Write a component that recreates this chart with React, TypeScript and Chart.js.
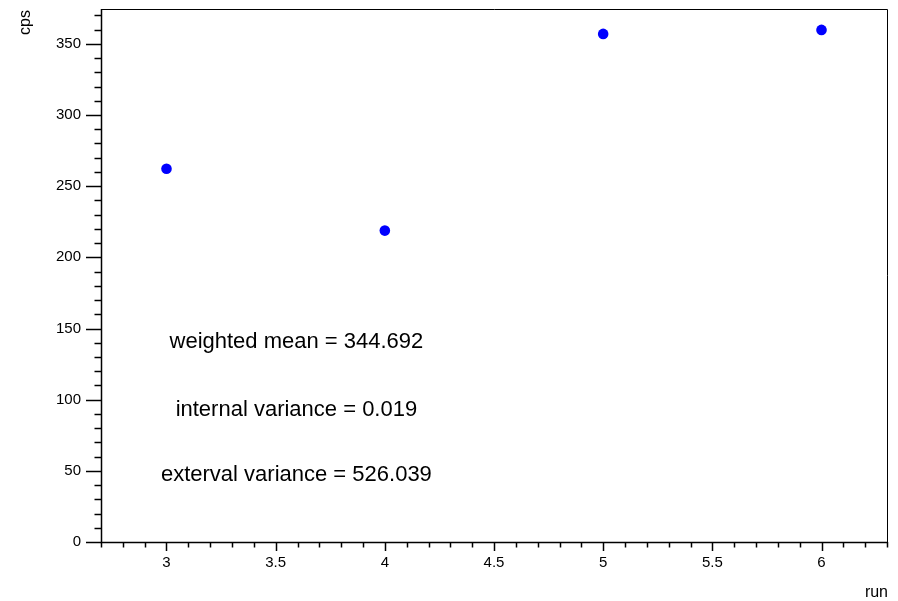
import React, { useEffect, useRef } from "react";
import { Chart, registerables } from "chart.js";

Chart.register(...registerables);

const runs = [3, 4, 5, 6];
const cps = [262.3, 218.8, 357.0, 359.8];

const annotationLabels = [
  "weighted mean = 344.692",
  "internal variance = 0.019",
  "exterval variance = 526.039",
];
const annotationX = [3.595, 3.595, 3.595];
const annotationY = [140.5, 92.8, 47.0];

const xTitle = "run";
const yTitle = "cps";

const FONT = "'Liberation Sans', Arial, Helvetica, sans-serif";

const near = (v: number, step: number) => Math.abs(v / step - Math.round(v / step)) < 1e-6;

const framePlugin = {
  id: "frame",
  afterDraw(chart: any) {
    const { ctx, chartArea } = chart;
    const { left, right, top, bottom } = chartArea;
    const xs = chart.scales.x;
    const ys = chart.scales.y;
    ctx.save();
    ctx.strokeStyle = "#000";
    ctx.lineWidth = 1;
    ctx.beginPath();
    ctx.moveTo(left, top + 0.5);
    ctx.lineTo(right + 0.5, top + 0.5);
    ctx.lineTo(right + 0.5, bottom);
    ctx.stroke();
    ctx.lineWidth = 1.5;
    ctx.beginPath();
    ctx.moveTo(left + 0.5, top);
    ctx.lineTo(left + 0.5, bottom + 0.5);
    ctx.lineTo(right + 1, bottom + 0.5);
    ctx.stroke();
    ctx.lineWidth = 1.5;
    for (const t of xs.ticks) {
      if (!near(t.value, 0.1)) continue;
      const major = near(t.value, 0.5);
      const px = Math.round(xs.getPixelForValue(t.value)) + 0.5;
      ctx.beginPath();
      ctx.moveTo(px, bottom);
      ctx.lineTo(px, bottom + (major ? 9 : 5.5));
      ctx.stroke();
    }
    for (const t of ys.ticks) {
      if (!near(t.value, 10)) continue;
      const major = near(t.value, 50);
      const py = Math.round(ys.getPixelForValue(t.value)) + 0.5;
      ctx.beginPath();
      ctx.moveTo(left, py);
      ctx.lineTo(left - (major ? 15 : 6.5), py);
      ctx.stroke();
    }
    ctx.fillStyle = "#000";
    ctx.font = `22px ${FONT}`;
    ctx.textAlign = "center";
    ctx.textBaseline = "middle";
    annotationLabels.forEach((s, i) => {
      ctx.fillText(s, xs.getPixelForValue(annotationX[i]), ys.getPixelForValue(annotationY[i]));
    });
    ctx.font = `16px ${FONT}`;
    ctx.textAlign = "right";
    ctx.textBaseline = "alphabetic";
    ctx.fillText(xTitle, right + 1, 597);
    ctx.save();
    ctx.translate(30, 10);
    ctx.rotate(-Math.PI / 2);
    ctx.textAlign = "right";
    ctx.fillText(yTitle, 0, 0);
    ctx.restore();
    ctx.restore();
  },
};

export default function App() {
  const ref = useRef<HTMLCanvasElement>(null);
  useEffect(() => {
    if (!ref.current) return;
    const chart = new Chart(ref.current, {
      type: "scatter",
      data: {
        datasets: [
          {
            data: runs.map((r, i) => ({ x: r, y: cps[i] })),
            backgroundColor: "#0000ff",
            borderWidth: 0,
            pointRadius: 5.3,
            pointHoverRadius: 5.3,
          },
        ],
      },
      options: {
        animation: false,
        responsive: false,
        events: [],
        layout: { padding: { top: 9, right: 11, left: 0, bottom: 0 } },
        plugins: { legend: { display: false }, tooltip: { enabled: false } },
        scales: {
          x: {
            type: "linear",
            min: 2.7,
            max: 6.3,
            afterFit: (s: any) => {
              s.height = 59;
              s.paddingLeft = 0;
              s.paddingRight = 0;
            },
            grid: { display: false, drawTicks: false },
            border: { display: false },
            ticks: {
              stepSize: 0.1,
              autoSkip: false,
              maxRotation: 0,
              includeBounds: false,
              padding: 12,
              color: "#000",
              font: { family: FONT, size: 15 },
              callback: (v: any) => (near(Number(v), 0.5) ? String(Math.round(Number(v) * 10) / 10) : ""),
            },
          },
          y: {
            type: "linear",
            min: 0,
            max: 374.5,
            afterFit: (s: any) => {
              s.width = 101;
              s.paddingTop = 0;
              s.paddingBottom = 0;
            },
            grid: { display: false, drawTicks: false },
            border: { display: false },
            ticks: {
              stepSize: 10,
              autoSkip: false,
              includeBounds: false,
              padding: 20,
              color: "#000",
              font: { family: FONT, size: 15 },
              callback: (v: any) => (near(Number(v), 50) ? String(Math.round(Number(v))) : ""),
            },
          },
        },
      },
      plugins: [framePlugin],
    });
    return () => chart.destroy();
  }, []);
  return (
    <div style={{ position: "absolute", left: 0, top: 0, width: 898, height: 601, background: "#fff" }}>
      <canvas ref={ref} width={898} height={601} />
    </div>
  );
}
